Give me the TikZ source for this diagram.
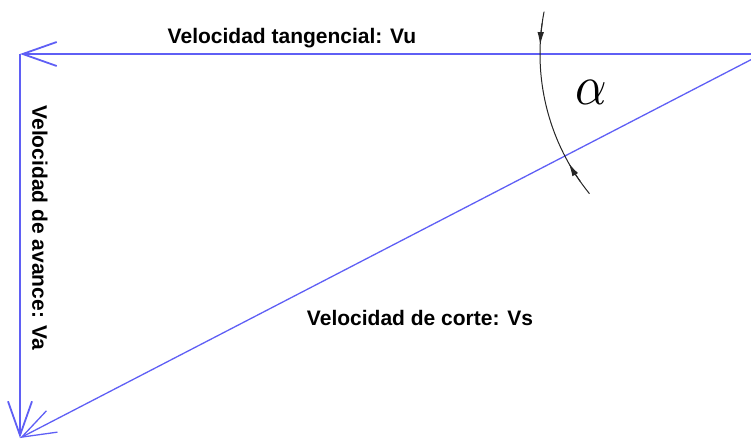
\documentclass[tikz,border=0pt]{standalone}
\usepackage{fontspec}
\setmainfont{Liberation Sans}
\usetikzlibrary{arrows.meta}
\definecolor{vektor}{RGB}{95,95,245}
\begin{document}
\begin{tikzpicture}[x=1pt, y=1pt,
  vek/.style={draw=vektor, line width=1.8pt, -{Straight Barb[length=34pt,width=24pt]}},
  popis/.style={font=\fontsize{21}{25}\selectfont\bfseries},
  oblouk/.style={draw=black!85, line width=1pt}]
\useasboundingbox (0,0) rectangle (751,440);

% vrcholy
\coordinate (vrchol) at (762,386);
\coordinate (roh) at (20,386);
\coordinate (dole) at (20,2);

% vektory rychlosti
\draw[vek] (vrchol) -- (roh);
\draw[vek] (roh) -- (dole);
\draw[vek, line width=1.3pt] (vrchol) -- (dole);

% popisky
\node[popis] (vu) at (292,402) {Velocidad tangencial: Vu};
\node[popis, rotate=-90] (va) at (40,212) {Velocidad de avance: Va};
\node[popis] (vs) at (420,122) {Velocidad de corte: Vs};

% úhel alfa
\node (alfa) at (591,348) {\scalebox{4.9}[5.6]{$\alpha$}};
\draw[oblouk] (vrchol) ++(169:222) arc[start angle=169, end angle=219, radius=222];
\draw[oblouk, -{Latex[length=13pt,width=6.5pt]}] (vrchol) ++(172:222) arc[start angle=172, end angle=177.7, radius=222];
\draw[oblouk, -{Latex[length=13pt,width=6.5pt]}] (vrchol) ++(215:222) arc[start angle=215, end angle=209.5, radius=222];

\end{tikzpicture}
\end{document}
